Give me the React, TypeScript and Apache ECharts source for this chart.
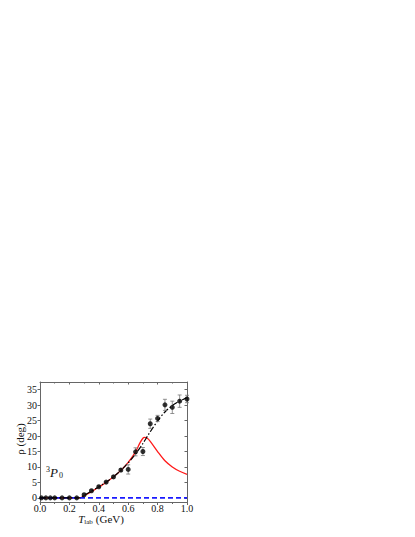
import React, { useEffect, useRef } from "react";
import * as echarts from "echarts";

const tLab = [0.01, 0.04, 0.07, 0.1, 0.15, 0.2, 0.25, 0.3, 0.35, 0.4, 0.45, 0.5, 0.55, 0.6, 0.65, 0.7, 0.75, 0.8, 0.85, 0.9, 0.95, 1.0];
const rhoData = [0, 0, 0, 0, 0, 0, 0, 1.0, 2.3, 3.6, 5.1, 6.8, 9.0, 9.2, 14.9, 15.0, 24.0, 25.7, 30.1, 29.3, 31.3, 32.0];
const rhoErr = [0, 0, 0, 0, 0, 0, 0, 0.3, 0.3, 0.3, 0.3, 0.4, 0.5, 1.5, 1.3, 1.3, 1.5, 1.0, 1.8, 2.0, 2.0, 1.2];

const blackT = [0, 0.1, 0.2, 0.27, 0.3, 0.35, 0.4, 0.45, 0.5, 0.55, 0.6, 0.65, 0.7, 0.75, 0.8, 0.85, 0.9, 0.95, 1.0];
const blackRho = [0, 0, 0, 0, 0.8, 2.2, 3.6, 5.1, 6.8, 8.9, 11.3, 14.2, 17.6, 21.4, 24.9, 27.8, 29.9, 31.3, 32.4];

const redT = [0, 0.1, 0.2, 0.27, 0.3, 0.35, 0.4, 0.45, 0.5, 0.55, 0.6, 0.65, 0.68, 0.7, 0.71, 0.73, 0.75, 0.8, 0.85, 0.9, 0.95, 1.0];
const redRho = [0, 0, 0, 0, 0.7, 2.0, 3.5, 5.0, 6.8, 8.9, 11.5, 14.9, 17.8, 19.3, 19.6, 19.3, 18.3, 15.0, 12.0, 10.0, 8.6, 7.6];

const blueT = [0, 1];
const blueRho = [0, 0];

const xTicks = [0, 0.2, 0.4, 0.6, 0.8, 1.0];
const yTicks = [0, 5, 10, 15, 20, 25, 30, 35];

const FONT = "Liberation Serif";
const AXIS_COLOR = "#666";

export default function App() {
  const ref = useRef<HTMLDivElement>(null);
  useEffect(() => {
    if (!ref.current) return;
    const chart = echarts.init(ref.current, null, { renderer: "svg" });
    const pts = tLab.map((t, i) => [t, rhoData[i]]);
    const errPts = tLab.map((t, i) => [t, rhoData[i] - rhoErr[i], rhoData[i] + rhoErr[i]]);
    chart.setOption({
      animation: false,
      backgroundColor: "#fff",
      grid: { left: 40, right: 228, top: 382, bottom: 34.5 },
      xAxis: [
        {
          type: "value",
          min: 0,
          max: 1,
          interval: 0.2,
          position: "bottom",
          axisLine: { show: true, onZero: false, lineStyle: { color: AXIS_COLOR, width: 1 } },
          axisTick: { show: true, inside: false, length: 2.5, lineStyle: { color: AXIS_COLOR } },
          minorTick: { show: true, splitNumber: 2, length: 1.5, lineStyle: { color: AXIS_COLOR } },
          splitLine: { show: false },
          axisLabel: {
            margin: 0.5,
            fontFamily: FONT,
            fontSize: 10,
            color: "#111",
            customValues: xTicks,
            formatter: (v: number) => v.toFixed(1),
          },
        },
        {
          type: "value",
          min: 0,
          max: 1,
          interval: 0.2,
          position: "top",
          axisLine: { show: true, onZero: false, lineStyle: { color: AXIS_COLOR, width: 1 } },
          axisTick: { show: true, inside: true, length: 2.5, lineStyle: { color: AXIS_COLOR } },
          minorTick: { show: true, splitNumber: 2, length: 1.5, lineStyle: { color: AXIS_COLOR } },
          axisLabel: { show: false },
          splitLine: { show: false },
        },
      ],
      yAxis: [
        {
          type: "value",
          min: -1.5,
          max: 37.5,
          position: "left",
          axisLine: { show: true, onZero: false, lineStyle: { color: AXIS_COLOR, width: 1 } },
          axisTick: { show: true, inside: false, length: 2.5, customValues: yTicks, lineStyle: { color: AXIS_COLOR } },
          splitLine: { show: false },
          axisLabel: {
            margin: 3,
            fontFamily: FONT,
            fontSize: 10,
            color: "#111",
            customValues: yTicks,
          },
        },
        {
          type: "value",
          min: -1.5,
          max: 37.5,
          position: "right",
          axisLine: { show: true, onZero: false, lineStyle: { color: AXIS_COLOR, width: 1 } },
          axisTick: { show: true, inside: true, length: 2.5, customValues: yTicks, lineStyle: { color: AXIS_COLOR } },
          axisLabel: { show: false },
          splitLine: { show: false },
        },
      ],
      series: [
        {
          type: "line",
          data: redT.map((t, i) => [t, redRho[i]]),
          showSymbol: false,
          smooth: 0.3,
          lineStyle: { color: "#ff1a1a", width: 1.3 },
          z: 2,
        },
        {
          type: "line",
          data: blueT.map((t, i) => [t, blueRho[i]]),
          showSymbol: false,
          lineStyle: { color: "#1a1aff", width: 1.6, type: [5, 3] },
          z: 3,
        },
        {
          type: "line",
          data: blackT.map((t, i) => [t, blackRho[i]]),
          showSymbol: false,
          smooth: 0.3,
          lineStyle: { color: "#000", width: 1.2, type: [6, 2, 1.5, 2] },
          z: 4,
        },
        {
          type: "custom",
          data: errPts,
          z: 5,
          renderItem: (params: any, api: any) => {
            const x = api.value(0);
            const lo = api.coord([x, api.value(1)]);
            const hi = api.coord([x, api.value(2)]);
            if (Math.abs(hi[1] - lo[1]) < 1) return null;
            const cap = 2;
            const style = { stroke: "#777", lineWidth: 0.8 };
            return {
              type: "group",
              children: [
                { type: "line", shape: { x1: lo[0], y1: lo[1], x2: hi[0], y2: hi[1] }, style },
                { type: "line", shape: { x1: lo[0] - cap, y1: lo[1], x2: lo[0] + cap, y2: lo[1] }, style },
                { type: "line", shape: { x1: hi[0] - cap, y1: hi[1], x2: hi[0] + cap, y2: hi[1] }, style },
              ],
            };
          },
        },
        {
          type: "scatter",
          data: pts,
          symbol: "circle",
          symbolSize: 5,
          itemStyle: { color: "#000" },
          z: 6,
        },
      ],
      graphic: [
        {
          type: "text",
          x: 20,
          y: 439,
          rotation: Math.PI / 2,
          style: {
            text: "ρ (deg)",
            fontFamily: FONT,
            fontSize: 11,
            fill: "#111",
            align: "center",
            verticalAlign: "middle",
          },
        },
        {
          type: "text",
          x: 101,
          y: 519,
          style: {
            text: "{t|T}{s|lab} {n|(GeV)}",
            fontFamily: FONT,
            align: "center",
            verticalAlign: "middle",
            rich: {
              t: { fontFamily: FONT, fontStyle: "italic", fontSize: 11, fill: "#111" },
              s: { fontFamily: FONT, fontSize: 7, fill: "#111", padding: [5, 0, 0, 0] },
              n: { fontFamily: FONT, fontSize: 11, fill: "#111" },
            },
          },
        },
        {
          type: "text",
          x: 46,
          y: 465,
          style: {
            text: "{sup|3}{p|P}{sub|0}",
            fontFamily: FONT,
            rich: {
              sup: { fontFamily: FONT, fontSize: 8, fill: "#111", padding: [0, 0, 6, 0] },
              p: { fontFamily: FONT, fontStyle: "italic", fontSize: 13, fill: "#111" },
              sub: { fontFamily: FONT, fontSize: 8, fill: "#111", padding: [6, 0, 0, 1] },
            },
          },
        },
      ],
    });
    return () => chart.dispose();
  }, []);
  return (
    <div
      ref={ref}
      style={{ position: "fixed", left: 0, top: 0, width: 415, height: 537, background: "#fff" }}
    />
  );
}
